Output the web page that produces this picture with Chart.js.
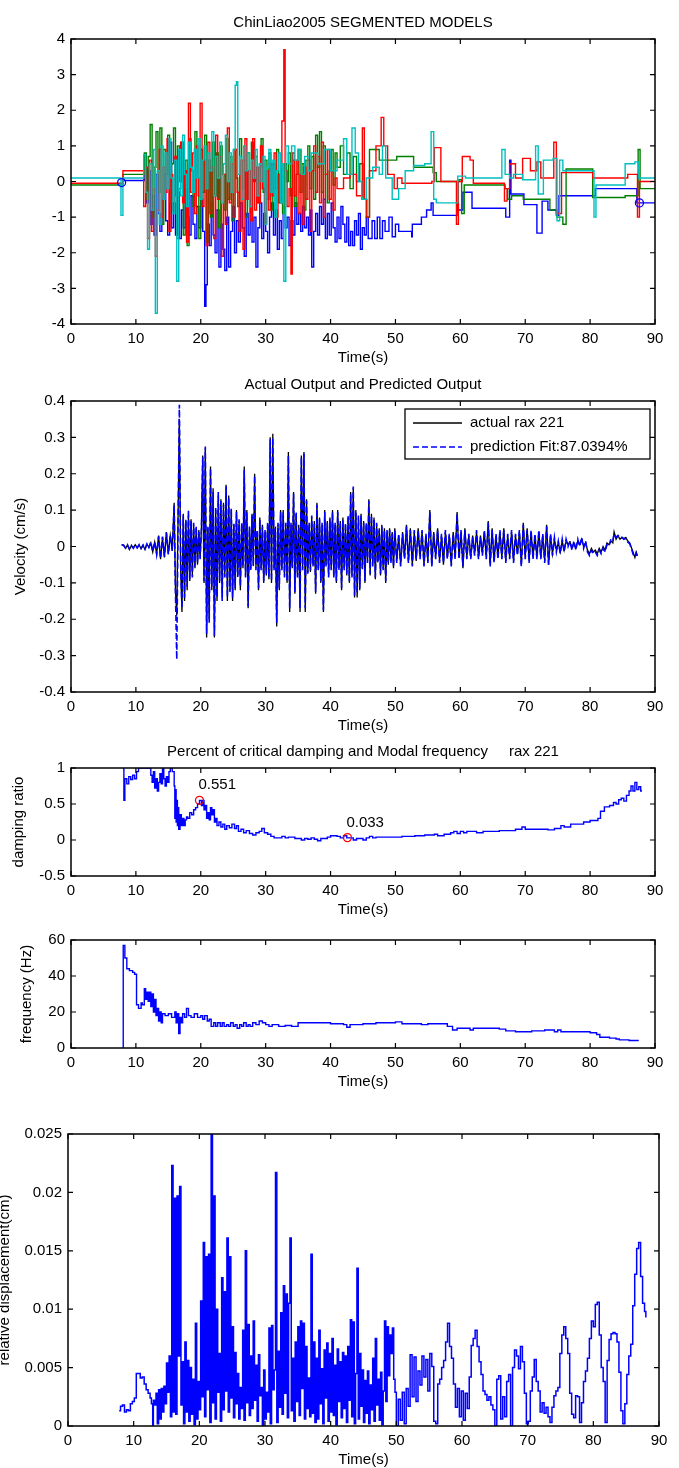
<!DOCTYPE html>
<html>
<head>
<meta charset="utf-8">
<title>ChinLiao2005 segmented models</title>
<script src="https://cdn.jsdelivr.net/npm/chart.js@4.4.1/dist/chart.umd.min.js"></script>
<style>
    body { margin: 0; background: #ffffff; }
    #page { position: relative; width: 679px; height: 1468px; overflow: hidden; background: #ffffff; }
    #page canvas { position: absolute; left: 0; }
</style>
</head>
<body>
<div id="page">
    <canvas id="plot1"></canvas>
    <canvas id="plot2"></canvas>
    <canvas id="plot3"></canvas>
    <canvas id="plot4"></canvas>
    <canvas id="plot5"></canvas>
</div>
<script>
// ---- axis ticks ----
const xTicks = [0, 10, 20, 30, 40, 50, 60, 70, 80, 90];
const xTickLabels = ['0', '10', '20', '30', '40', '50', '60', '70', '80', '90'];
const yTicks1 = [-4, -3, -2, -1, 0, 1, 2, 3, 4];
const yTickLabels1 = ['-4', '-3', '-2', '-1', '0', '1', '2', '3', '4'];
const yTicks2 = [-0.4, -0.3, -0.2, -0.1, 0, 0.1, 0.2, 0.3, 0.4];
const yTickLabels2 = ['-0.4', '-0.3', '-0.2', '-0.1', '0', '0.1', '0.2', '0.3', '0.4'];
const yTicks3 = [-0.5, 0, 0.5, 1];
const yTickLabels3 = ['-0.5', '0', '0.5', '1'];
const yTicks4 = [0, 20, 40, 60];
const yTickLabels4 = ['0', '20', '40', '60'];
const yTicks5 = [0, 0.005, 0.01, 0.015, 0.02, 0.025];
const yTickLabels5 = ['0', '0.005', '0.01', '0.015', '0.02', '0.025'];

// ---- plot 1: segmented models (stairs) ----
const tBlue1 = [7.8, 11.3,11.6,11.9,12.2,12.5,12.8,13.1,13.4,13.7,14.0,
    14.3,14.6,14.9,15.2,15.5,15.8,16.1,16.4,16.7,17.0,
    17.3,17.6,17.9,18.2,18.5,18.8,19.1,19.4,19.7,20.0,
    20.3,20.6,20.8,21.0,21.3,21.6,21.9,22.2,22.5,22.8,
    23.1,23.4,23.7,24.0,24.3,24.6,24.9,25.2,25.5,25.8,
    26.1,26.4,26.7,27.0,27.3,27.6,27.9,28.2,28.5,28.8,
    29.1,29.4,29.7,30.0,30.3,30.6,30.9,31.2,31.5,31.8,
    32.1,32.4,32.7,33.0,33.3,33.6,33.9,34.2,34.5,34.8,
    35.1,35.4,35.7,36.0,36.3,36.6,36.9,37.1,37.4,37.7,
    38.0,38.3,38.6,38.9,39.2,39.5,39.8,40.1,40.4,40.7,
    41.0,41.3,41.6,41.9,42.2,42.5,42.8,43.1,43.4,43.7,
    44.0,44.3,44.6,44.9,45.2,45.5,45.8,46.4,46.8,47.2,
    47.6,48.0,48.4,49.0,49.5,50.0,50.5,52.0,52.5,52.6,
    54.0,54.8,55.5,55.8,59.5,59.7,60.4,61.8,67.0,67.6,
    67.8,69.8,71.8,72.6,73.5,74.8,75.2,80.8,87.2,90.0];
const vBlue1 = [0.03, 0.45,-0.6,0.3,-1.2,-0.4,-1.5,0.2,-0.9,-1.4,-0.5,
    0.2,-1.1,-1.5,1.1,-1.3,-0.6,-1.5,-0.3,-1.6,-0.8,
    -1.3,-0.2,-1.0,-1.5,-0.4,-1.2,-1.6,-0.7,-1.3,-0.5,
    -1.4,-3.5,-2.9,-1.2,-1.8,-0.6,-1.5,-2.0,-0.8,-2.4,
    -1.2,-1.9,-2.5,-1.0,-2.4,-1.4,-0.7,-2.0,-1.1,-1.7,
    -0.6,-1.3,-2.1,-0.9,-1.5,-0.5,-1.7,-1.0,-2.4,-1.3,
    -0.6,-1.6,-0.9,-1.4,-2.0,-1.0,-0.6,-1.5,-0.8,-1.9,
    -1.1,-1.6,-0.7,-1.3,-1.0,-1.8,-1.1,-1.5,-0.6,-1.2,
    -0.9,-1.4,-0.7,-1.3,-1.0,-1.5,-0.8,-2.4,-1.4,-0.9,
    -1.5,-0.7,-1.2,-0.5,-1.6,-0.9,-1.5,-0.6,-1.3,-1.7,
    -1.0,-1.6,-0.7,-1.2,-1.7,-1.0,-1.8,-1.4,-1.8,-1.1,
    -1.5,-0.9,-1.9,-1.3,-1.5,-1.0,-1.6,-1.1,-1.6,-1.0,
    -1.6,-1.1,-1.4,-1.0,-1.55,-1.2,-1.4,-1.4,-1.55,-1.2,
    -1.0,-0.8,-0.6,-0.95,-0.6,-0.8,-0.3,-0.75,-1.0,0.6,
    -0.35,-0.65,-1.45,-0.55,-0.8,-0.95,-0.4,-0.2,-0.6,-0.6];

const tRed1 = [0, 8.0, 11.2,11.5,11.8,12.1,12.4,12.7,13.0,13.3,13.6,13.9,
    14.2,14.5,14.8,15.1,15.4,15.7,16.0,16.3,16.6,16.9,
    17.2,17.5,17.8,18.1,18.4,18.7,19.0,19.3,19.6,19.9,
    20.2,20.5,20.8,21.1,21.4,21.7,22.0,22.3,22.6,22.9,
    23.2,23.5,23.8,24.1,24.4,24.7,25.0,25.3,25.6,25.9,
    26.2,26.5,26.8,27.1,27.4,27.7,28.0,28.3,28.6,28.9,
    29.2,29.5,29.8,30.1,30.4,30.7,31.0,31.3,31.6,31.9,
    32.2,32.5,32.8,33.0,33.3,33.6,33.9,34.1,34.4,34.7,
    35.0,35.3,35.6,35.9,36.2,36.5,36.8,37.1,37.4,37.7,
    38.0,38.3,38.6,38.9,39.2,39.5,39.8,40.1,40.4,40.7,
    41.0,42.0,43.0,44.0,44.9,45.2,45.6,46.0,47.0,47.8,
    48.2,48.8,49.8,50.3,51.0,55.6,56.0,57.0,59.4,59.7,
    60.3,61.5,62.0,66.8,67.2,67.6,68.5,69.6,70.8,71.8,
    72.4,74.4,74.8,75.6,80.4,85.8,87.3,87.6,90.0];
const vRed1 = [-0.05, 0.3, -0.7,0.4,-1.6,0.6,-1.4,-0.2,-2.1,-0.8,0.9,-1.0,
    0.4,-0.3,1.2,-1.4,0.2,-0.8,0.7,-1.6,-0.2,1.1,
    -0.6,0.3,-1.7,2.2,-0.3,0.8,-0.9,1.0,-0.4,2.2,
    -0.7,0.6,-1.8,1.1,-0.9,0.4,-1.6,1.3,-0.5,0.7,
    -2.1,0.2,-1.2,1.5,-0.6,0.5,-1.0,0.9,-0.3,-1.4,
    0.6,-1.9,1.2,-0.5,0.3,-1.1,1.2,-0.8,0.4,-0.6,
    1.0,-0.2,-1.2,0.3,-0.8,0.5,-0.4,0.8,-1.0,0.2,
    -0.6,1.7,3.7,0.3,-0.7,-0.2,-2.6,0.8,-0.4,0.6,
    -0.9,0.2,-1.2,0.4,-0.5,0.6,-1.4,0.3,1.0,-0.3,
    0.7,-0.6,1.1,-1.0,0.2,0.9,-0.5,0.3,-0.8,0.1,
    -0.2,0.1,0.2,-0.4,1.5,-0.5,-1.0,0.3,1.0,1.8,
    1.0,0.2,-0.2,0.1,-0.05,0.0,0.95,0.0,-1.2,0.0,
    0.7,0.6,-0.05,-0.55,-0.2,0.5,0.1,0.65,0.3,0.55,
    0.1,1.1,-0.9,0.25,0.1,0.2,-1.0,0.0,0.0];

const tGreen1 = [0, 8.0, 11.3,11.6,11.9,12.2,12.5,12.8,13.1,13.4,13.7,14.0,
    14.3,14.6,14.9,15.2,15.5,15.8,16.1,16.4,16.7,17.0,
    17.3,17.6,17.9,18.2,18.5,18.8,19.1,19.4,19.7,20.0,
    20.3,20.6,20.9,21.2,21.5,21.8,22.1,22.4,22.7,23.0,
    23.3,23.6,23.9,24.2,24.5,24.8,25.1,25.4,25.7,26.0,
    26.3,26.6,26.9,27.2,27.5,27.8,28.1,28.4,28.7,29.0,
    29.3,29.6,29.9,30.2,30.5,30.8,31.1,31.4,31.7,32.0,
    32.3,32.6,32.9,33.2,33.5,33.8,34.1,34.4,34.7,35.0,
    35.3,35.6,35.9,36.2,36.5,36.8,37.1,37.4,37.7,38.0,
    38.3,38.6,38.9,39.2,39.5,39.8,40.1,40.4,40.7,41.0,
    41.5,42.0,42.5,43.0,43.5,44.0,44.5,45.0,45.5,46.0,
    47.5,50.2,52.8,55.8,56.3,59.8,60.2,60.6,66.9,67.3,
    67.9,69.7,73.8,74.9,75.8,76.3,80.4,85.4,87.4,87.7,
    90.0];
const vGreen1 = [-0.1, 0.2, 0.8,-0.5,0.7,1.6,-1.0,0.4,1.4,-0.3,1.5,-1.2,
    0.9,0.2,1.3,-0.6,0.5,1.5,-0.4,1.0,0.0,1.1,
    -1.5,0.6,-1.8,1.2,0.3,-0.7,1.4,0.1,-1.6,0.9,
    -0.3,1.3,-1.7,0.6,-1.0,1.1,-0.4,0.8,-1.3,1.0,
    0.2,-0.8,1.2,-0.5,0.7,-1.1,0.9,0.1,-0.7,1.2,
    -0.2,0.6,-1.0,0.8,-0.4,1.1,0.0,0.7,-0.6,0.4,
    1.2,-0.3,0.6,-0.5,0.8,-0.8,0.5,-0.2,0.9,-0.6,
    0.3,-0.9,0.5,0.0,0.8,-0.4,0.6,-0.7,0.2,0.9,
    -0.3,0.5,-0.8,0.6,1.0,-0.2,0.7,-0.5,1.3,0.4,
    1.4,-0.3,1.0,0.2,-0.6,0.3,0.9,-0.1,0.8,0.4,
    1.0,0.2,0.8,-0.2,0.7,0.0,0.5,-0.5,-1.0,0.9,
    0.6,0.7,0.4,0.25,0.0,0.05,-0.9,-0.1,-0.2,-0.5,
    -0.4,-0.5,-0.8,-1.0,-1.2,0.35,-0.45,-0.4,0.9,-0.2,
    -0.2];

const tCyan1 = [0, 7.7, 8.0, 11.2,11.5,11.8,12.1,12.4,12.7,13.0,13.3,13.6,13.9,
    14.2,14.5,14.8,15.1,15.4,15.7,16.0,16.3,16.6,16.9,
    17.2,17.5,17.8,18.1,18.4,18.7,19.0,19.3,19.6,19.9,
    20.2,20.5,20.8,21.1,21.4,21.7,22.0,22.3,22.6,22.9,
    23.2,23.5,23.8,24.1,24.4,24.7,25.0,25.3,25.5,25.7,
    26.0,26.3,26.6,26.9,27.2,27.5,27.8,28.1,28.4,28.7,
    29.0,29.3,29.6,29.9,30.2,30.5,30.8,31.1,31.4,31.7,
    32.0,32.3,32.6,32.8,33.1,33.5,34.0,34.5,35.0,35.5,
    36.0,36.5,37.0,38.0,39.0,40.0,41.0,42.0,42.5,43.3,
    43.8,44.3,44.8,45.5,46.5,47.5,48.0,48.5,49.5,50.5,
    51.5,52.8,54.5,55.5,55.9,56.3,59.6,60.8,66.4,66.9,
    67.6,68.2,69.6,71.6,72.0,72.8,74.3,74.9,75.3,75.8,
    80.4,80.6,80.9,85.4,86.9,87.5,90.0];
const vCyan1 = [0.1, -0.95, 0.1, 0.75,-0.3,-1.9,0.5,-0.8,0.9,-3.7,0.3,-1.2,1.0,
    -0.5,0.8,-0.2,1.2,0.1,-0.9,0.6,-2.8,0.9,-0.4,
    1.3,0.2,-0.7,1.1,0.4,-0.3,0.9,0.1,1.2,-0.5,
    0.6,1.0,-0.2,0.8,0.3,1.4,-0.4,0.7,0.1,1.1,
    -0.6,0.5,1.3,0.0,0.8,-0.3,0.9,2.7,2.8,0.2,
    0.7,-0.5,1.0,0.3,0.8,-0.7,0.6,0.1,0.9,-0.4,
    0.5,0.0,0.7,-1.2,0.4,0.9,-0.3,0.6,-1.0,0.3,
    0.8,-0.6,0.5,-2.8,1.0,0.5,1.0,0.6,0.9,0.2,
    0.7,0.3,0.8,0.5,0.9,0.3,0.6,1.2,0.2,1.5,
    0.8,0.0,-0.5,0.1,0.4,0.2,1.0,0.1,-0.5,-0.2,
    0.3,0.45,0.5,1.4,-0.5,-0.6,0.15,0.1,0.9,0.2,
    0.1,0.2,0.05,1.0,-0.35,0.6,0.65,-1.1,0.6,0.3,
    0.3,-1.0,-0.1,0.5,0.55,0.1,0.1];

const markerT1 = [7.8, 87.6];
const markerV1 = [-0.03, -0.6];

// ---- plot 2: actual vs predicted velocity ----
const t2 = [7.8,8.1,8.4,8.7,9.0,9.3,9.6,9.9,10.2,10.5,10.8,11.1,11.4,11.7,12.0,12.3,12.6,12.9,13.2,13.5,13.8,14.1,14.4,14.7,15.0,15.3,15.6,
    15.9,16.1,16.3,16.5,16.7,16.9,17.1,17.3,17.5,17.7,
    17.9,18.1,18.3,18.5,18.7,18.9,19.1,19.3,19.5,19.7,
    19.9,20.1,20.3,20.5,20.7,20.9,21.1,21.3,21.5,21.7,
    21.9,22.1,22.3,22.5,22.7,22.9,23.1,23.3,23.5,23.7,
    23.9,24.1,24.3,24.5,24.7,24.9,25.1,25.3,25.5,25.7,
    25.9,26.1,26.3,26.5,26.7,26.9,27.1,27.3,27.5,27.7,
    27.9,28.1,28.3,28.5,28.7,28.9,29.1,29.3,29.5,29.7,
    29.9,30.1,30.3,30.5,30.7,30.9,31.1,31.3,31.5,31.7,
    31.9,32.1,32.3,32.5,32.7,32.9,33.1,33.3,33.5,33.7,
    33.9,34.1,34.3,34.5,34.7,34.9,35.1,35.3,35.5,35.7,
    35.9,36.1,36.3,36.5,36.7,36.9,37.1,37.3,37.5,37.7,
    37.9,38.1,38.3,38.5,38.7,38.9,39.1,39.3,39.5,39.7,
    39.9,40.1,40.3,40.5,40.7,40.9,41.1,41.3,41.5,41.7,
    41.9,42.1,42.3,42.5,42.7,42.9,43.1,43.3,43.5,43.7,
    43.9,44.1,44.3,44.5,44.7,44.9,45.1,45.3,45.5,45.7,
    45.9,46.1,46.3,46.5,46.7,46.9,47.1,47.3,47.5,47.7,
    47.9,48.1,48.3,48.5,48.7,48.9,49.1,49.3,49.5,49.7,
    49.9,
    50.2,50.5,50.8,51.1,51.4,51.7,52.0,52.3,52.6,52.9,
    53.2,53.5,53.8,54.1,54.4,54.7,55.0,55.3,55.6,55.9,
    56.2,56.5,56.8,57.1,57.4,57.7,58.0,58.3,58.6,58.9,
    59.2,59.5,59.8,60.1,60.4,60.7,61.0,61.3,61.6,61.9,
    62.2,62.5,62.8,63.1,63.4,63.7,64.0,64.3,64.6,64.9,
    65.2,65.5,65.8,66.1,66.4,66.7,67.0,67.3,67.6,67.9,
    68.2,68.5,68.8,69.1,69.4,69.7,70.0,70.3,70.6,70.9,
    71.2,71.5,71.8,72.1,72.4,72.7,73.0,73.3,73.6,73.9,
    74.2,74.5,74.8,75.1,75.4,75.7,76.0,76.3,76.6,76.9,
    77.2,77.5,77.8,78.1,78.4,78.7,79.0,79.3,79.6,79.9,
    80.2,80.5,80.8,81.1,81.4,81.7,82.0,82.3,82.6,82.9,
    83.2,83.5,
    83.7,84.0,84.3,84.6,84.9,85.2,85.5,85.8,86.1,86.4,86.7,86.9,87.1,87.3];
const actual2 = [0.005,0.003,-0.005,0.004,-0.008,0.002,-0.004,0.005,-0.003,0.004,-0.006,0.003,-0.008,0.006,-0.002,0.010,-0.015,0.012,-0.020,0.030,-0.035,0.025,-0.030,0.040,-0.020,0.030,-0.010,
    0.120,-0.120,-0.190,0.080,0.350,-0.060,-0.180,0.090,-0.150,0.070,
    -0.120,0.085,-0.095,0.075,-0.080,0.060,-0.060,0.050,-0.050,0.045,
    -0.030,0.050,0.250,-0.100,0.270,-0.250,0.050,-0.200,0.220,-0.120,
    0.160,-0.250,0.100,-0.150,0.140,-0.100,0.130,-0.140,0.120,-0.080,
    0.170,-0.150,0.140,-0.120,0.100,-0.150,0.060,-0.120,0.100,-0.080,
    0.070,-0.120,0.060,-0.060,0.220,-0.080,0.100,-0.170,0.050,-0.060,
    0.090,-0.050,0.200,-0.060,0.040,-0.120,0.080,-0.060,0.060,-0.100,
    0.040,-0.080,0.060,-0.090,0.300,-0.100,0.310,-0.060,0.050,-0.220,
    0.060,-0.120,0.100,-0.060,0.100,-0.080,0.060,-0.100,0.260,-0.180,
    0.060,-0.060,0.150,-0.130,0.090,-0.080,0.060,-0.180,0.250,-0.060,
    0.260,-0.180,0.130,-0.070,0.060,-0.070,0.080,-0.050,0.070,-0.130,
    0.120,-0.060,0.080,-0.100,0.060,-0.180,0.100,-0.050,0.070,-0.080,
    0.080,-0.060,0.100,-0.080,0.060,-0.100,0.100,-0.060,0.070,-0.120,
    0.080,-0.060,0.060,-0.080,0.080,-0.100,0.150,-0.080,0.160,-0.140,
    0.100,-0.140,0.080,-0.120,0.090,-0.060,0.070,-0.100,0.060,-0.040,
    0.130,-0.080,0.090,-0.050,0.080,-0.090,0.060,-0.040,0.050,-0.080,
    0.060,-0.060,0.050,-0.100,0.040,-0.050,0.050,-0.040,0.040,-0.060,
    0.050,
    -0.040,0.030,-0.050,0.040,-0.030,0.060,-0.040,0.050,-0.050,0.040,
    -0.040,0.050,-0.030,0.040,-0.050,0.030,-0.040,0.100,-0.050,0.040,
    -0.030,0.050,-0.040,0.030,-0.050,0.040,-0.030,0.030,-0.050,0.040,
    -0.030,0.095,-0.030,0.040,-0.060,0.050,-0.030,0.030,-0.030,0.030,
    -0.020,0.040,-0.030,0.030,-0.020,0.040,-0.030,0.070,-0.050,0.050,
    -0.040,0.030,-0.030,0.040,-0.030,0.050,-0.040,0.030,-0.030,0.040,
    -0.040,0.030,-0.020,0.040,-0.050,0.065,-0.030,0.050,-0.040,0.040,
    -0.030,0.030,-0.030,0.040,-0.030,0.030,-0.040,0.060,-0.050,0.030,
    -0.020,0.020,-0.010,0.010,-0.015,0.015,-0.010,0.015,0.005,0.012,
    -0.005,0.010,-0.005,0.015,0.005,0.020,0.000,0.010,-0.010,-0.020,
    -0.005,-0.015,-0.010,-0.020,-0.005,-0.015,0.000,-0.010,0.010,0.005,
    0.015,0.010,
    0.040,0.020,0.030,0.020,0.025,0.022,0.025,0.015,0.010,-0.005,-0.020,-0.030,-0.015,-0.025];
const predicted2 = [0.004,0.004,-0.004,0.005,-0.007,0.003,-0.005,0.004,-0.004,0.005,-0.005,0.004,-0.007,0.007,-0.003,0.012,-0.014,0.013,-0.022,0.028,-0.033,0.027,-0.028,0.038,-0.022,0.032,-0.012,
    0.115,-0.130,-0.310,0.070,0.390,-0.050,-0.170,0.085,-0.140,0.075,
    -0.110,0.100,-0.090,0.070,-0.085,0.065,-0.055,0.055,-0.045,0.040,
    -0.035,0.045,0.245,-0.095,0.275,-0.240,0.055,-0.210,0.215,-0.110,
    0.150,-0.245,0.110,-0.140,0.150,-0.095,0.125,-0.150,0.115,-0.085,
    0.165,-0.140,0.135,-0.125,0.105,-0.140,0.065,-0.115,0.095,-0.085,
    0.075,-0.110,0.065,-0.055,0.210,-0.085,0.095,-0.165,0.055,-0.065,
    0.085,-0.055,0.195,-0.065,0.045,-0.115,0.075,-0.065,0.055,-0.095,
    0.045,-0.075,0.065,-0.085,0.295,-0.095,0.300,-0.065,0.055,-0.210,
    0.065,-0.115,0.095,-0.065,0.095,-0.085,0.065,-0.095,0.250,-0.170,
    0.065,-0.055,0.145,-0.125,0.095,-0.085,0.055,-0.170,0.245,-0.065,
    0.255,-0.170,0.125,-0.075,0.065,-0.065,0.085,-0.055,0.065,-0.125,
    0.115,-0.065,0.075,-0.095,0.065,-0.175,0.095,-0.055,0.065,-0.085,
    0.075,-0.065,0.095,-0.085,0.065,-0.095,0.095,-0.065,0.065,-0.115,
    0.075,-0.065,0.065,-0.075,0.085,-0.095,0.145,-0.085,0.165,-0.135,
    0.095,-0.130,0.085,-0.115,0.085,-0.065,0.065,-0.095,0.065,-0.045,
    0.125,-0.075,0.085,-0.055,0.075,-0.085,0.065,-0.045,0.045,-0.075,
    0.055,-0.065,0.045,-0.095,0.045,-0.045,0.045,-0.045,0.035,-0.055,
    0.045,
    -0.045,0.035,-0.055,0.035,-0.035,0.055,-0.045,0.045,-0.055,0.045,
    -0.035,0.045,-0.035,0.045,-0.055,0.035,-0.045,0.095,-0.055,0.035,
    -0.035,0.045,-0.045,0.035,-0.045,0.045,-0.035,0.035,-0.055,0.035,
    -0.035,0.090,-0.035,0.045,-0.055,0.045,-0.035,0.035,-0.035,0.025,
    -0.025,0.045,-0.035,0.025,-0.025,0.045,-0.035,0.065,-0.055,0.045,
    -0.045,0.035,-0.035,0.045,-0.035,0.045,-0.045,0.035,-0.035,0.045,
    -0.045,0.035,-0.025,0.045,-0.055,0.060,-0.035,0.045,-0.045,0.045,
    -0.035,0.035,-0.035,0.045,-0.035,0.035,-0.045,0.055,-0.050,0.035,
    -0.025,0.025,-0.015,0.015,-0.020,0.020,-0.015,0.020,0.000,0.015,
    -0.010,0.015,-0.010,0.020,0.000,0.025,-0.005,0.015,-0.015,-0.025,
    -0.010,-0.020,-0.015,-0.025,-0.010,-0.020,-0.005,-0.015,0.005,0.000,
    0.020,0.015,
    0.035,0.025,0.030,0.025,0.025,0.020,0.022,0.012,0.008,-0.008,-0.025,-0.028,-0.018,-0.030];

// ---- plot 3: damping ratio ----
const t3 = [8.0,8.15,8.3,8.6,8.9,9.2,9.5,9.8,10.1,10.4,
    12.3,12.5,12.7,12.9,13.1,13.3,13.5,13.7,13.9,14.1,
    14.3,14.5,14.7,14.9,15.1,15.3,15.6,15.9,16.0,16.1,
    16.2,16.3,16.4,16.5,16.6,16.8,17.0,17.2,17.4,17.6,
    17.8,18.0,18.3,18.6,18.9,19.2,19.5,19.8,20.1,20.3,
    20.5,20.7,20.9,21.1,21.3,21.5,21.7,21.9,22.1,22.3,
    22.5,22.8,23.1,23.4,23.7,24.0,24.4,24.8,25.2,25.5,
    25.8,26.2,26.6,27.0,27.5,28.0,28.5,29.0,29.4,29.8,
    30.3,30.8,31.3,32.5,33.0,33.5,34.5,35.5,36.0,36.5,
    37.0,37.5,38.0,38.5,39.5,40.0,41.0,41.5,42.0,42.5,
    43.5,44.0,45.0,45.5,46.0,46.5,47.0,50.0,51.0,53.0,
    54.5,56.0,56.5,57.5,58.5,59.0,59.5,60.0,60.5,61.0,
    62.5,63.5,66.0,68.5,69.5,70.0,73.5,74.5,75.5,76.0,
    77.0,79.0,80.0,81.2,81.6,82.2,83.0,83.6,84.0,84.4,
    84.8,85.2,85.6,86.0,86.3,86.6,86.9,87.2,87.5,87.8,
    88.0];
const damping3 = [1.0,0.55,0.85,0.78,0.88,0.84,0.9,0.85,0.95,1.0,
    0.9,0.8,0.95,0.72,0.85,0.68,0.8,0.92,0.78,1.0,
    0.85,0.75,0.88,0.8,0.95,1.0,0.95,0.75,0.3,0.7,
    0.25,0.55,0.2,0.45,0.15,0.35,0.2,0.3,0.2,0.28,
    0.32,0.3,0.38,0.35,0.42,0.45,0.5,0.55,0.48,0.55,
    0.42,0.48,0.3,0.38,0.28,0.45,0.35,0.42,0.25,0.3,
    0.2,0.25,0.18,0.22,0.15,0.2,0.17,0.22,0.16,0.2,
    0.12,0.15,0.1,0.13,0.09,0.07,0.1,0.12,0.16,0.1,
    0.08,0.05,0.03,0.05,0.03,0.04,0.02,0.0,0.02,0.01,
    0.03,0.01,-0.01,0.02,0.04,0.06,0.05,0.03,0.06,0.03,
    0.0,0.02,0.0,0.03,0.05,0.03,0.04,0.04,0.05,0.06,
    0.07,0.08,0.06,0.08,0.1,0.12,0.09,0.12,0.1,0.12,
    0.1,0.12,0.13,0.15,0.18,0.15,0.14,0.16,0.2,0.18,
    0.22,0.25,0.27,0.3,0.4,0.46,0.48,0.52,0.5,0.56,
    0.58,0.54,0.62,0.68,0.75,0.68,0.8,0.7,0.74,0.68,
    0.68];
const markerT3 = [19.8, 42.6];
const markerV3 = [0.551, 0.033];
const markerText3 = ['0.551', '0.033'];

// ---- plot 4: modal frequency ----
const t4 = [8.0,8.05,8.3,8.6,9.0,9.5,9.8,10.1,10.4,10.8,
    11.0,11.3,11.5,11.7,11.9,12.1,12.3,12.5,12.7,12.9,
    13.1,13.3,13.5,13.7,13.9,14.1,14.5,15.0,15.5,16.0,
    16.2,16.4,16.6,16.8,17.0,17.2,17.5,17.8,18.1,18.5,
    19.0,19.5,20.0,20.3,20.6,21.0,21.3,21.6,22.0,22.3,
    22.6,23.0,23.3,23.6,24.0,24.3,24.6,25.0,25.3,25.6,
    26.0,26.3,26.6,27.0,27.3,27.6,28.0,28.5,29.0,29.5,
    30.0,30.5,31.0,32.0,33.0,34.0,35.0,36.0,40.0,42.0,
    42.5,43.0,45.0,47.0,50.0,51.0,54.0,55.0,58.0,58.8,
    59.5,60.5,61.5,62.0,66.0,67.0,68.5,70.0,71.0,73.0,
    74.5,75.0,75.5,77.0,80.0,81.0,81.5,83.0,84.0,84.5,
    86.0,87.5];
const freq4 = [0,57,50,44,43,42,41,24,22,25,
    24,33,27,31,26,31,23,30,20,27,
    18,22,15,20,14,19,18,19,17,20,
    14,19,8,17,14,19,17,22,18,17,
    19,17,18,16,18,15,16,12,14,12,
    14,12,14,12,13,12,14,12,13,11,
    13,12,14,12,13,12,14,13,15,14,
    13,12,13,12,12.5,12,14,14,13.5,13,
    11.5,13,13.5,14,14.5,13.5,13,13.5,12,10,
    11,11,10,11,10.5,9.5,9,9,9.5,10,
    9,10,9,9,8.5,7.5,6,5.5,5,4.5,
    4.2,4.2];

// ---- plot 5: relative displacement ----
const t5 = [7.8,8.0,8.3,8.6,8.9,9.2,9.5,9.8,10.1,10.4,10.7,11.0,11.3,11.6,11.9,12.2,12.5,12.7,12.9,13.0,13.2,13.4,13.6,13.8,14.0,14.2,14.4,14.6,14.8,
    15.0,15.2,15.4,15.6,15.8,16.0,16.2,16.4,16.6,16.8,
    17.0,17.2,17.4,17.6,17.8,18.0,18.2,18.4,18.6,18.8,
    19.0,19.2,19.4,19.6,19.8,20.0,20.2,20.4,20.6,20.8,
    21.0,21.2,21.4,21.6,21.8,22.0,22.2,22.4,22.6,22.8,
    23.0,23.2,23.4,23.6,23.8,24.0,24.2,24.4,24.6,24.8,
    25.0,25.2,25.4,25.6,25.8,26.0,26.2,26.4,26.6,26.8,
    27.0,27.2,27.4,27.6,27.8,28.0,28.2,28.4,28.6,28.8,
    29.0,29.2,29.4,29.6,29.8,30.0,30.2,30.4,30.6,30.8,
    31.0,31.2,31.4,31.6,31.8,32.0,32.2,32.4,32.6,32.8,
    33.0,33.2,33.4,33.6,33.8,34.0,34.2,34.4,34.6,34.8,
    35.0,35.2,35.4,35.6,35.8,36.0,36.2,36.4,36.6,36.8,
    37.0,37.2,37.4,37.6,37.8,38.0,38.2,38.4,38.6,38.8,
    39.0,39.2,39.4,39.6,39.8,40.0,40.2,40.4,40.6,40.8,
    41.0,41.2,41.4,41.6,41.8,42.0,42.2,42.4,42.6,42.8,
    43.0,43.2,43.4,43.6,43.8,44.0,44.2,44.4,44.6,44.8,
    45.0,45.2,45.4,45.6,45.8,46.0,46.2,46.4,46.6,46.8,
    47.0,47.2,47.4,47.6,47.8,48.0,48.2,48.4,48.6,48.8,
    49.0,49.2,49.4,49.6,49.8,
    50.0,50.3,50.6,50.9,51.2,51.5,51.8,52.1,52.4,52.7,
    53.0,53.3,53.6,53.9,54.2,54.5,54.8,55.1,55.4,55.7,
    56.0,56.3,56.6,56.9,57.2,57.5,57.8,58.1,58.4,58.7,
    59.0,59.3,59.6,59.9,60.2,60.5,60.8,61.1,61.4,61.7,
    62.0,62.3,62.6,62.9,63.2,63.5,63.8,64.1,64.4,64.7,
    65.0,65.3,65.6,65.9,66.2,66.5,66.8,67.1,67.4,67.7,
    68.0,68.3,68.6,68.9,69.2,69.5,69.8,70.1,70.4,70.7,
    71.0,71.3,71.6,71.9,72.2,72.5,72.8,73.1,73.4,73.7,
    74.0,74.3,74.6,74.9,75.2,75.5,75.8,76.1,76.4,76.7,
    77.0,77.3,77.6,77.9,78.2,78.5,78.8,79.1,79.4,79.7,
    80.0,80.3,80.6,80.9,81.2,81.5,81.8,82.1,82.4,82.7,
    83.0,83.3,83.6,83.9,84.2,84.5,84.8,85.1,85.4,85.7,
    86.0,86.3,86.6,86.9,87.2,87.5,87.8,88.0];
const disp5 = [0.0013,0.0017,0.0018,0.0012,0.0014,0.0013,0.0019,0.0021,0.0024,0.0045,0.0045,0.0041,0.0042,0.0036,0.0031,0.0028,0.0024,0.0019,0.0000,0.0022,0.0018,0.0028,0.0002,0.0031,0.0006,0.0032,0.0012,0.0034,0.0019,
    0.0054,0.0029,0.0060,0.0008,0.0223,0.0012,0.0195,0.0010,0.0197,0.0060,
    0.0205,0.0018,0.0055,0.0002,0.0072,0.0012,0.0056,0.0004,0.0050,0.0010,
    0.0040,0.0001,0.0088,0.0006,0.0038,0.0014,0.0107,0.0025,0.0157,0.0008,
    0.0145,0.0031,0.0147,0.0003,0.0250,0.0020,0.0197,0.0006,0.0100,0.0029,
    0.0062,0.0004,0.0127,0.0014,0.0115,0.0030,0.0161,0.0012,0.0145,0.0024,
    0.0085,0.0007,0.0063,0.0019,0.0045,0.0006,0.0033,0.0015,0.0082,0.0005,
    0.0150,0.0020,0.0087,0.0009,0.0060,0.0015,0.0090,0.0022,0.0052,0.0004,
    0.0061,0.0026,0.0033,0.0000,0.0048,0.0006,0.0029,0.0012,0.0084,0.0002,
    0.0086,0.0031,0.0048,0.0217,0.0003,0.0064,0.0016,0.0097,0.0010,0.0120,
    0.0028,0.0113,0.0007,0.0105,0.0161,0.0013,0.0058,0.0004,0.0072,0.0021,
    0.0085,0.0009,0.0090,0.0032,0.0088,0.0006,0.0068,0.0015,0.0041,0.0008,
    0.0147,0.0011,0.0072,0.0003,0.0058,0.0006,0.0082,0.0019,0.0049,0.0002,
    0.0065,0.0024,0.0071,0.0004,0.0062,0.0012,0.0075,0.0009,0.0052,0.0001,
    0.0066,0.0021,0.0055,0.0007,0.0063,0.0015,0.0060,0.0003,0.0068,0.0022,
    0.0091,0.0008,0.0089,0.0002,0.0045,0.0135,0.0006,0.0062,0.0017,0.0048,
    0.0003,0.0039,0.0011,0.0047,0.0002,0.0035,0.0014,0.0058,0.0004,0.0075,
    0.0018,0.0040,0.0005,0.0046,0.0001,0.0030,0.0090,0.0021,0.0085,0.0043,
    0.0078,0.0062,0.0084,0.0040,0.0029,
    0.0000,0.0023,0.0005,0.0029,0.0002,0.0032,0.0017,0.0061,0.0025,0.0059,
    0.0021,0.0047,0.0035,0.0060,0.0042,0.0057,0.0030,0.0062,0.0051,0.0004,
    0.0002,0.0036,0.0040,0.0050,0.0056,0.0072,0.0088,0.0068,0.0058,0.0036,
    0.0016,0.0032,0.0008,0.0030,0.0005,0.0028,0.0015,0.0042,0.0069,0.0075,
    0.0082,0.0068,0.0055,0.0044,0.0030,0.0027,0.0022,0.0025,0.0018,0.0014,
    0.0000,0.0040,0.0043,0.0006,0.0025,0.0008,0.0038,0.0044,0.0000,0.0050,
    0.0065,0.0060,0.0049,0.0068,0.0055,0.0028,0.0002,0.0004,0.0030,0.0042,
    0.0057,0.0038,0.0030,0.0012,0.0020,0.0011,0.0016,0.0008,0.0003,0.0016,
    0.0026,0.0030,0.0033,0.0062,0.0078,0.0085,0.0075,0.0062,0.0028,0.0010,
    0.0007,0.0026,0.0025,0.0003,0.0020,0.0038,0.0047,0.0058,0.0075,0.0090,
    0.0085,0.0104,0.0106,0.0078,0.0050,0.0038,0.0003,0.0056,0.0074,0.0079,
    0.0080,0.0079,0.0072,0.0046,0.0013,0.0002,0.0019,0.0044,0.0060,0.0070,
    0.0103,0.0130,0.0152,0.0157,0.0128,0.0105,0.0098,0.0093];

// ---- page geometry ----
const PAGE_W = 679;
const FONT_FAMILY = '"Liberation Sans", Arial, Helvetica, sans-serif';
Chart.defaults.font.family = FONT_FAMILY;
Chart.defaults.font.size = 15;
Chart.defaults.color = '#000000';

function points(xs, ys) {
    const n = Math.min(xs.length, ys.length);
    const out = [];
    for (let i = 0; i < n; i++) out.push({ x: xs[i], y: ys[i] });
    return out;
}

function lineSet(label, xs, ys, color, extra) {
    return Object.assign({
        label: label,
        data: points(xs, ys),
        borderColor: color,
        backgroundColor: color,
        borderWidth: 1.4,
        pointRadius: 0,
        fill: false,
        tension: 0
    }, extra || {});
}

function markerSet(xs, ys, color) {
    return {
        data: points(xs, ys),
        showLine: false,
        pointRadius: 4,
        pointStyle: 'circle',
        pointBorderColor: color,
        pointBackgroundColor: 'rgba(0,0,0,0)',
        pointBorderWidth: 1.3,
        borderColor: color,
        order: 0
    };
}

// box around the axes with MATLAB-style inward ticks on all four sides
const frame = {
    id: 'frame',
    afterDatasetsDraw(chart) {
        const { ctx, chartArea: a, scales } = chart;
        const len = 5;
        ctx.save();
        ctx.strokeStyle = '#000';
        ctx.lineWidth = 1.2;
        ctx.beginPath();
        scales.x.ticks.forEach(t => {
            const px = scales.x.getPixelForValue(t.value);
            ctx.moveTo(px, a.bottom); ctx.lineTo(px, a.bottom - len);
            ctx.moveTo(px, a.top); ctx.lineTo(px, a.top + len);
        });
        scales.y.ticks.forEach(t => {
            const py = scales.y.getPixelForValue(t.value);
            ctx.moveTo(a.left, py); ctx.lineTo(a.left + len, py);
            ctx.moveTo(a.right, py); ctx.lineTo(a.right - len, py);
        });
        ctx.stroke();
        ctx.lineWidth = 1.5;
        ctx.strokeRect(a.left, a.top, a.right - a.left, a.bottom - a.top);
        ctx.restore();
    }
};

// title centred over the axes box
const plotTitle = {
    id: 'plotTitle',
    afterDraw(chart, args, opts) {
        if (!opts.text) return;
        const { ctx, chartArea: a } = chart;
        ctx.save();
        ctx.font = '15px ' + FONT_FAMILY;
        ctx.fillStyle = '#000';
        ctx.textAlign = 'center';
        ctx.textBaseline = 'middle';
        ctx.fillText(opts.text, (a.left + a.right) / 2, opts.y);
        ctx.restore();
    }
};

// boxed legend drawn inside the axes (plot 2)
const boxLegend = {
    id: 'boxLegend',
    afterDraw(chart, args, o) {
        if (!o.width) return;
        const ctx = chart.ctx;
        ctx.save();
        ctx.fillStyle = '#fff';
        ctx.fillRect(o.left, o.top, o.width, o.height);
        ctx.strokeStyle = '#000';
        ctx.lineWidth = 1.3;
        ctx.strokeRect(o.left, o.top, o.width, o.height);
        ctx.font = '15px ' + FONT_FAMILY;
        ctx.textAlign = 'left';
        ctx.textBaseline = 'middle';
        let row = 0;
        chart.data.datasets.forEach(ds => {
            if (!ds.label) return;
            const y = o.top + o.rows[row++];
            ctx.strokeStyle = ds.borderColor;
            ctx.lineWidth = ds.borderWidth;
            ctx.setLineDash(ds.borderDash || []);
            ctx.beginPath();
            ctx.moveTo(o.left + o.lineFrom, y);
            ctx.lineTo(o.left + o.lineTo, y);
            ctx.stroke();
            ctx.setLineDash([]);
            ctx.fillStyle = '#000';
            ctx.fillText(ds.label, o.left + o.textX, y);
        });
        ctx.restore();
    }
};

// value labels next to the marked points (plot 3)
const markLabels = {
    id: 'markLabels',
    afterDatasetsDraw(chart, args, o) {
        if (!o.texts) return;
        const meta = chart.getDatasetMeta(o.datasetIndex);
        const ctx = chart.ctx;
        ctx.save();
        ctx.font = '15px ' + FONT_FAMILY;
        ctx.fillStyle = '#000';
        ctx.textAlign = 'left';
        ctx.textBaseline = 'middle';
        meta.data.forEach((pt, i) => {
            ctx.fillText(o.texts[i], pt.x + o.dx, pt.y + o.dy);
        });
        ctx.restore();
    }
};

function makePlot(id, g, datasets, yTicks, yLabels, extraPlugins, extraOpts) {
    const canvas = document.getElementById(id);
    canvas.width = PAGE_W;
    canvas.height = g.height;
    canvas.style.top = g.top + 'px';
    const xAxisH = g.top + g.height - g.plotBottom;
    const pluginOpts = Object.assign({
        legend: { display: false },
        tooltip: { enabled: false },
        plotTitle: { text: g.title || '', y: (g.titleY || 0) - g.top }
    }, extraOpts || {});

    return new Chart(canvas, {
        type: 'line',
        data: { datasets: datasets },
        options: {
            responsive: false,
            animation: false,
            events: [],
            layout: { padding: { top: g.plotTop - g.top, right: PAGE_W - g.plotRight, bottom: 0, left: 0 } },
            plugins: pluginOpts,
            scales: {
                x: {
                    type: 'linear',
                    min: 0,
                    max: 90,
                    grid: { display: false, drawTicks: false },
                    border: { display: false },
                    afterBuildTicks: s => { s.ticks = xTicks.map(v => ({ value: v })); },
                    afterFit: s => { s.height = xAxisH; },
                    ticks: { autoSkip: false, maxRotation: 0, padding: 5.5, callback: (v, i) => xTickLabels[i] },
                    title: { display: true, text: 'Time(s)', padding: { top: 0, bottom: xAxisH - 43 } }
                },
                y: {
                    type: 'linear',
                    min: yTicks[0],
                    max: yTicks[yTicks.length - 1],
                    grid: { display: false, drawTicks: false },
                    border: { display: false },
                    afterBuildTicks: s => { s.ticks = yTicks.map(v => ({ value: v })); },
                    afterFit: s => { s.width = g.plotLeft; },
                    ticks: { autoSkip: false, padding: 6, callback: (v, i) => yLabels[i] },
                    title: { display: !!g.yTitle, text: g.yTitle || '', padding: { top: (g.yTitleX || 20) - 9, bottom: 0 } }
                }
            }
        },
        plugins: [frame, plotTitle].concat(extraPlugins || [])
    });
}

// plot 1
makePlot('plot1',
    { top: 0, height: 375, plotTop: 39, plotBottom: 324, plotLeft: 71, plotRight: 655,
      title: 'ChinLiao2005 SEGMENTED MODELS', titleY: 22.5 },
    [
        lineSet('model 1', tBlue1, vBlue1, '#0000ff', { stepped: true, order: 4 }),
        lineSet('model 2', tGreen1, vGreen1, '#008000', { stepped: true, order: 3 }),
        lineSet('model 3', tRed1, vRed1, '#ff0000', { stepped: true, order: 2 }),
        lineSet('model 4', tCyan1, vCyan1, '#00bfbf', { stepped: true, order: 1 }),
        markerSet(markerT1, markerV1, '#0000ff')
    ],
    yTicks1, yTickLabels1);

// plot 2
makePlot('plot2',
    { top: 375, height: 365, plotTop: 401, plotBottom: 692, plotLeft: 71, plotRight: 655,
      title: 'Actual Output and Predicted Output', titleY: 385, yTitle: 'Velocity (cm/s)', yTitleX: 21 },
    [
        lineSet('actual rax 221', t2, actual2, '#000000', { borderWidth: 1.3, order: 2 }),
        lineSet('prediction Fit:87.0394%', t2, predicted2, '#0000ff', { borderWidth: 1.6, borderDash: [6, 3], order: 1 })
    ],
    yTicks2, yTickLabels2,
    [boxLegend],
    { boxLegend: { left: 405, top: 34, width: 245, height: 50, rows: [14, 38], lineFrom: 8, lineTo: 57, textX: 65 } });

// plot 3
makePlot('plot3',
    { top: 740, height: 185, plotTop: 768, plotBottom: 876, plotLeft: 71, plotRight: 655,
      title: 'Percent of critical damping and Modal frequency     rax 221', titleY: 752,
      yTitle: 'damping ratio', yTitleX: 19 },
    [
        lineSet('damping', t3, damping3, '#0000ff', { stepped: true, order: 2 }),
        markerSet(markerT3, markerV3, '#ff0000')
    ],
    yTicks3, yTickLabels3,
    [markLabels],
    { markLabels: { datasetIndex: 1, texts: markerText3, dx: -1, dy: -15 } });

// plot 4
makePlot('plot4',
    { top: 925, height: 175, plotTop: 940, plotBottom: 1048, plotLeft: 71, plotRight: 655,
      yTitle: 'frequency (Hz)', yTitleX: 27 },
    [
        lineSet('frequency', t4, freq4, '#0000ff', { stepped: true })
    ],
    yTicks4, yTickLabels4);

// plot 5
makePlot('plot5',
    { top: 1100, height: 368, plotTop: 1134, plotBottom: 1426, plotLeft: 68, plotRight: 659,
      yTitle: 'relative displacement(cm)', yTitleX: 5 },
    [
        lineSet('displacement', t5, disp5, '#0000ff', { stepped: true, borderWidth: 1.5 })
    ],
    yTicks5, yTickLabels5);
</script>
</body>
</html>
